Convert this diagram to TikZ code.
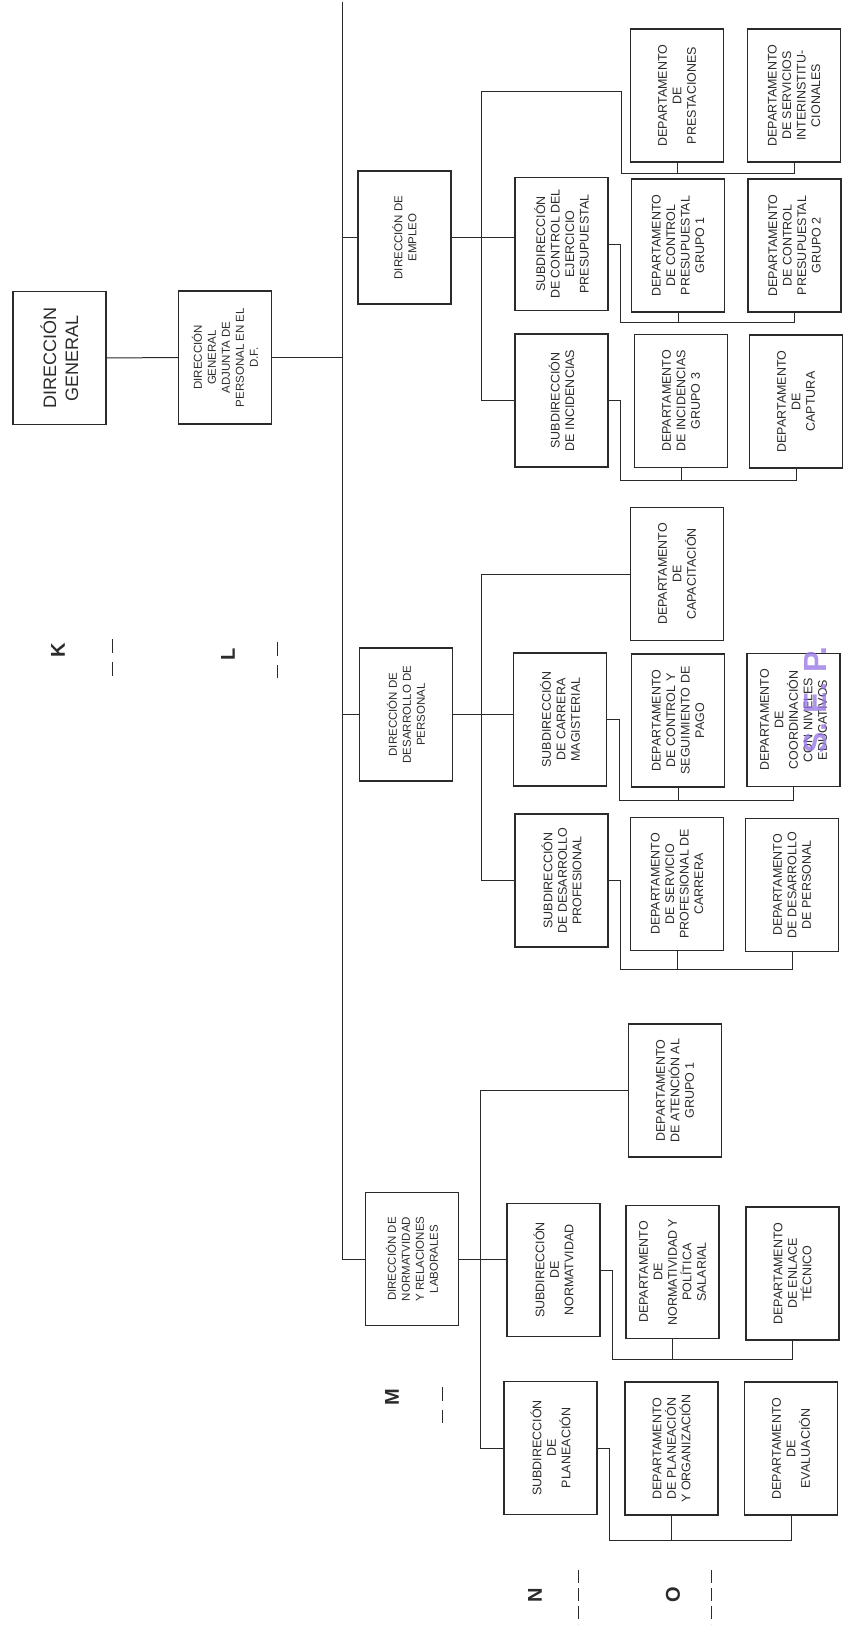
\documentclass[tikz,border=0pt]{standalone}
\usepackage{fontspec}
\setmainfont{Liberation Sans}
\usetikzlibrary{positioning, calc}
\definecolor{inkgray}{HTML}{2B2B2B}
\definecolor{sepviolet}{HTML}{9A7BE6}

\begin{document}
\begin{tikzpicture}[
        x=1pt, y=-1pt,
        unit/.style={draw=inkgray, line width=1.1pt, rotate=90, minimum width=133pt, minimum height=93pt,
                     inner sep=2pt, align=center, text=inkgray, font=\fontsize{12.5}{14.5}\selectfont},
        head/.style={unit, font=\fontsize{11.5}{14}\selectfont},
        link/.style={draw=inkgray, line width=1pt},
        cut/.style={draw=inkgray, line width=1pt, dash pattern=on 14pt off 9pt},
        tag/.style={rotate=90, text=inkgray, font=\fontsize{20}{24}\selectfont\bfseries}
    ]
    \useasboundingbox[fill=white] (0,0) rectangle (843,1627);

    % Top level
    \node[unit, font=\fontsize{18}{22}\selectfont] (dg) at (59.5,358) {DIRECCIÓN\\GENERAL};
    \node[head] (dga) at (225,357.5) {DIRECCIÓN\\GENERAL\\ADJUNTA DE\\PERSONAL EN EL\\D.F.};

    % Direcciones
    \node[head] (emp) at (404.5,237.5) {DIRECCIÓN DE\\EMPLEO};
    \node[head] (dsp) at (406,714.5)   {DIRECCIÓN DE\\DESARROLLO DE\\PERSONAL};
    \node[head] (nrl) at (412,1259)    {DIRECCIÓN DE\\NORMATVIDAD\\Y RELACIONES\\LABORALES};

    % Empleo
    \node[unit] (prest) at (677,95.5)    {DEPARTAMENTO\\DE\\PRESTACIONES};
    \node[unit] (servi) at (794,95.5)    {DEPARTAMENTO\\DE SERVICIOS\\INTERINSTITU-\\CIONALES};
    \node[unit] (sctl)  at (561.5,244)   {SUBDIRECCIÓN\\DE CONTROL DEL\\EJERCICIO\\PRESUPUESTAL};
    \node[unit] (cp1)   at (678,245.5)   {DEPARTAMENTO\\DE CONTROL\\PRESUPUESTAL\\GRUPO 1};
    \node[unit] (cp2)   at (794.5,245.5) {DEPARTAMENTO\\DE CONTROL\\PRESUPUESTAL\\GRUPO 2};
    \node[unit] (sinc)  at (561.5,400.5) {SUBDIRECCIÓN\\DE INCIDENCIAS};
    \node[unit] (inc3)  at (681,401)     {DEPARTAMENTO\\DE INCIDENCIAS\\GRUPO 3};
    \node[unit] (capt)  at (796,401.5)   {DEPARTAMENTO\\DE\\CAPTURA};

    % Desarrollo de personal
    \node[unit] (capac) at (677,574)     {DEPARTAMENTO\\DE\\CAPACITACIÓN};
    \node[unit] (scm)   at (560,719.5)   {SUBDIRECCIÓN\\DE CARRERA\\MAGISTERIAL};
    \node[unit] (csp)   at (678,720.5)   {DEPARTAMENTO\\DE CONTROL Y\\SEGUIMIENTO DE\\PAGO};
    \node[unit] (cne)   at (793.5,720)   {DEPARTAMENTO\\DE\\COORDINACIÓN\\CON NIVELES\\EDUCATIVOS};
    \node[unit] (sdp)   at (561.5,880.5) {SUBDIRECCIÓN\\DE DESARROLLO\\PROFESIONAL};
    \node[unit] (spc)   at (677,884)     {DEPARTAMENTO\\DE SERVICIO\\PROFESIONAL DE\\CARRERA};
    \node[unit] (dper)  at (792,885)     {DEPARTAMENTO\\DE DESARROLLO\\DE PERSONAL};

    % Normatividad
    \node[unit] (aten)  at (675,1090.5)  {DEPARTAMENTO\\DE ATENCIÓN AL\\GRUPO 1};
    \node[unit] (snor)  at (553.5,1270)  {SUBDIRECCIÓN\\DE\\NORMATVIDAD};
    \node[unit] (nps)   at (672.5,1272)  {DEPARTAMENTO\\DE\\NORMATIVIDAD Y\\POLÍTICA\\SALARIAL};
    \node[unit] (enl)   at (792.5,1273.5){DEPARTAMENTO\\DE ENLACE\\TÉCNICO};
    \node[unit] (spla)  at (550.5,1448)  {SUBDIRECCIÓN\\DE\\PLANEACIÓN};
    \node[unit] (pyo)   at (671.5,1448.5){DEPARTAMENTO\\DE PLANEACIÓN\\Y ORGANIZACIÓN};
    \node[unit] (eva)   at (791,1448.5)  {DEPARTAMENTO\\DE\\EVALUACIÓN};

    % Main spine
    \coordinate (sp) at (342,2);
    \draw[link] (dg.south) -- (dga.north);
    \draw[link] (dga.south) -- (dga.south -| sp);
    \draw[link] (sp) -- (sp |- nrl.north) -- (nrl.north);
    \foreach \d in {emp,dsp}
        \draw[link] (\d.north -| sp) -- (\d.north);

    % Empleo branch
    \coordinate (ej) at (481,92);
    \draw[link] (emp.south) -- (emp.south -| sctl.north);
    \draw[link] (sinc.north) -| (ej) -- ++(140,0) |- ($(prest.west)+(0,11)$) -| (servi.west);
    \draw[link] (prest.west) -- ++(0,11);

    % Desarrollo branch
    \coordinate (dj) at (481,0);
    \draw[link] (dsp.south) -- (dsp.south -| scm.north);
    \draw[link] (capac.north) -- (capac.north -| dj) |- (sdp.north);

    % Normatividad branch
    \coordinate (nj) at (480,0);
    \draw[link] (nrl.south) -- (nrl.south -| snor.north);
    \draw[link] (aten.north) -- (aten.north -| nj) |- (spla.north);

    % Subdirecciones to departamentos
    \foreach \s/\a/\b/\h in {sctl/cp1/cp2/10, sinc/inc3/capt/12, scm/csp/cne/13,
                             sdp/spc/dper/18, snor/nps/enl/20, spla/pyo/eva/25}{
        \draw[link] (\s.south) -- ++(12,0) |- ($(\a.west)+(0,\h)$) -| (\b.west);
        \draw[link] (\a.west) -- ++(0,\h);
    }

    % Cut marks
    \node[tag] (k) at (58,650)   {K};
    \node[tag] (l) at (228,654)  {L};
    \node[tag] (m) at (392,1397) {M};
    \node[tag] (n) at (535,1595) {N};
    \node[tag] (o) at (673,1595) {O};
    \draw[cut] (112,639) -- (112,676);
    \draw[cut] (277,642) -- (277,678);
    \draw[cut] (442,1387) -- (442,1423);
    \draw[cut, dash pattern=on 13pt off 5pt] (578,1570) -- (578,1624);
    \draw[cut, dash pattern=on 13pt off 5pt] (711,1570) -- (711,1624);

    % Stamp
    \node[rotate=90, text=sepviolet, opacity=0.8, font=\fontsize{32}{34}\selectfont\bfseries] (sep)
        at (815,700) {S.\hspace{10pt}E.\hspace{10pt}P.};
\end{tikzpicture}
\end{document}
